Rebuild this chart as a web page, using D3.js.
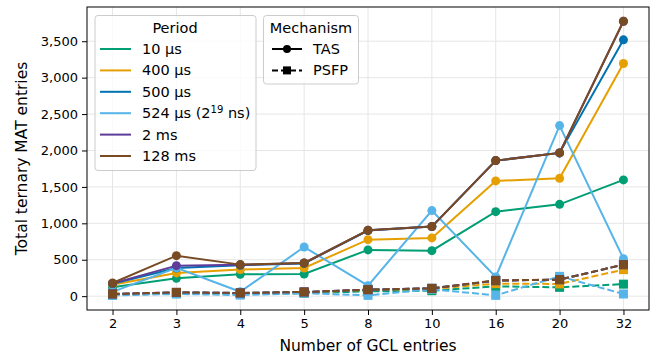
<!DOCTYPE html>
<html>
<head>
<meta charset="utf-8">
<script src="https://cdn.jsdelivr.net/npm/d3@7"></script>
<style>
  body { margin: 0; background: #fff; }
  svg { font-family: "DejaVu Sans", sans-serif; }
</style>
</head>
<body>
<svg id="chart" width="666" height="356"></svg>
<script>
// categories on the x axis (number of GCL entries)
var gclEntries = ["2", "3", "4", "5", "8", "10", "16", "20", "32"];

var periods = ["10 µs", "400 µs", "500 µs", "524 µs", "2 ms", "128 ms"];
var periodColors = ["#009E73", "#E69F00", "#0072B2", "#56B4E9", "#5E3C99", "#784B23"];

// TAS (solid, circles)
var tas10us  = [121, 245, 300, 305, 635, 625, 1160, 1261, 1596];
var tas400us = [158, 319, 365, 387, 776, 800, 1582, 1618, 3194];
var tas500us = [170, 387, 425, 450, 900, 955, 1861, 1967, 3519];
var tas524us = [58, 390, 60, 675, 144, 1175, 264, 2342, 515];
var tas2ms   = [175, 419, 430, 455, 904, 955, 1861, 1967, 3775];
var tas128ms = [181, 556, 433, 456, 904, 955, 1861, 1967, 3775];

// PSFP (dashed, squares)
var psfp10us  = [20, 35, 30, 40, 66, 75, 135, 121, 165];
var psfp400us = [25, 45, 40, 50, 85, 100, 172, 168, 364];
var psfp500us = [28, 50, 43, 56, 89, 107, 213, 227, 433];
var psfp524us = [10, 30, 15, 40, 11, 95, 11, 272, 30];
var psfp2ms   = [30, 52, 44, 58, 89, 107, 213, 227, 433];
var psfp128ms = [30, 52, 44, 58, 89, 107, 217, 227, 433];

var yTicks = [0, 500, 1000, 1500, 2000, 2500, 3000, 3500];

var tasSeries = [tas10us, tas400us, tas500us, tas524us, tas2ms, tas128ms];
var psfpSeries = [psfp10us, psfp400us, psfp500us, psfp524us, psfp2ms, psfp128ms];

var plotLeft = 87, plotRight = 649, plotTop = 7, plotBottom = 310;

var svg = d3.select('#chart');

var x = d3.scalePoint()
    .domain(gclEntries)
    .range([plotLeft, plotRight])
    .padding(0.4);

var y = d3.scaleLinear()
    .domain([-190, 3970])
    .range([plotBottom, plotTop]);

// grid
var grid = svg.append('g');
grid.selectAll(null)
    .data(gclEntries)
    .enter()
    .append('line')
    .attr('x1', function (d) { return x(d); })
    .attr('x2', function (d) { return x(d); })
    .attr('y1', plotTop).attr('y2', plotBottom)
    .attr('stroke', '#e6e6e6').attr('stroke-width', 1);
grid.selectAll(null)
    .data(yTicks)
    .enter()
    .append('line')
    .attr('x1', plotLeft).attr('x2', plotRight)
    .attr('y1', function (d) { return y(d); })
    .attr('y2', function (d) { return y(d); })
    .attr('stroke', '#e6e6e6').attr('stroke-width', 1);

// axes
var xAxis = svg.append('g')
    .attr('transform', 'translate(0,' + plotBottom + ')')
    .call(d3.axisBottom(x).tickSize(5).tickPadding(4));
var yAxis = svg.append('g')
    .attr('transform', 'translate(' + plotLeft + ',0)')
    .call(d3.axisLeft(y).tickValues(yTicks).tickFormat(d3.format(',')).tickSize(5).tickPadding(4));

[xAxis, yAxis].forEach(function (a) {
    a.select('.domain').remove();
    a.selectAll('text').attr('font-size', 13).attr('fill', '#000')
        .attr('font-family', '"DejaVu Sans", sans-serif');
    a.selectAll('line').attr('stroke', '#000');
});

svg.append('rect')
    .attr('x', plotLeft).attr('y', plotTop)
    .attr('width', plotRight - plotLeft).attr('height', plotBottom - plotTop)
    .attr('fill', 'none').attr('stroke', '#000').attr('stroke-width', 1);

var line = d3.line()
    .x(function (d, i) { return x(gclEntries[i]); })
    .y(function (d) { return y(d); });

var plot = svg.append('g');

tasSeries.forEach(function (s, k) {
    plot.append('path')
        .attr('d', line(s))
        .attr('fill', 'none')
        .attr('stroke', periodColors[k])
        .attr('stroke-width', 2);
    plot.selectAll(null)
        .data(s)
        .enter()
        .append('circle')
        .attr('cx', function (d, i) { return x(gclEntries[i]); })
        .attr('cy', function (d) { return y(d); })
        .attr('r', 4.5)
        .attr('fill', periodColors[k]);
});

psfpSeries.forEach(function (s, k) {
    plot.append('path')
        .attr('d', line(s))
        .attr('fill', 'none')
        .attr('stroke', periodColors[k])
        .attr('stroke-width', 2)
        .attr('stroke-dasharray', '7,3');
    plot.selectAll(null)
        .data(s)
        .enter()
        .append('rect')
        .attr('x', function (d, i) { return x(gclEntries[i]) - 4.5; })
        .attr('y', function (d) { return y(d) - 4.5; })
        .attr('width', 9).attr('height', 9)
        .attr('fill', periodColors[k]);
});

// axis labels
svg.append('text')
    .attr('x', (plotLeft + plotRight) / 2).attr('y', 351)
    .attr('text-anchor', 'middle')
    .attr('font-size', 15.5)
    .text('Number of GCL entries');

svg.append('text')
    .attr('transform', 'translate(27,' + ((plotTop + plotBottom) / 2) + ') rotate(-90)')
    .attr('text-anchor', 'middle')
    .attr('font-size', 15.5)
    .text('Total ternary MAT entries');

// legend: Period
var leg1 = svg.append('g');
leg1.append('rect')
    .attr('x', 95).attr('y', 15.5).attr('width', 161).attr('height', 155)
    .attr('rx', 3)
    .attr('fill', 'rgba(255,255,255,0.8)').attr('stroke', '#cccccc');
leg1.append('text')
    .attr('x', 175).attr('y', 33)
    .attr('text-anchor', 'middle').attr('font-size', 14.5)
    .text('Period');
periods.forEach(function (p, k) {
    var yy = 49 + k * 21.4;
    leg1.append('line')
        .attr('x1', 100).attr('x2', 131)
        .attr('y1', yy).attr('y2', yy)
        .attr('stroke', periodColors[k]).attr('stroke-width', 2);
    var t = leg1.append('text')
        .attr('x', 142).attr('y', yy + 5)
        .attr('font-size', 14.5);
    if (p === '524 µs') {
        t.append('tspan').text('524 µs (2');
        t.append('tspan').attr('font-size', 10).attr('dy', -5).text('19');
        t.append('tspan').attr('dy', 5).text(' ns)');
    } else {
        t.text(p);
    }
});

// legend: Mechanism
var mechanisms = ['TAS', 'PSFP'];
var leg2 = svg.append('g');
leg2.append('rect')
    .attr('x', 263.5).attr('y', 15.5).attr('width', 95).attr('height', 68.5)
    .attr('rx', 3)
    .attr('fill', 'rgba(255,255,255,0.8)').attr('stroke', '#cccccc');
leg2.append('text')
    .attr('x', 311).attr('y', 33)
    .attr('text-anchor', 'middle').attr('font-size', 14.5)
    .text('Mechanism');
mechanisms.forEach(function (m, k) {
    var yy = 49 + k * 21.4;
    leg2.append('line')
        .attr('x1', 272).attr('x2', 302)
        .attr('y1', yy).attr('y2', yy)
        .attr('stroke', '#000').attr('stroke-width', 2)
        .attr('stroke-dasharray', k === 1 ? '6,3' : null);
    if (k === 0) {
        leg2.append('circle').attr('cx', 287).attr('cy', yy).attr('r', 4).attr('fill', '#000');
    } else {
        leg2.append('rect').attr('x', 283).attr('y', yy - 4).attr('width', 8).attr('height', 8).attr('fill', '#000');
    }
    leg2.append('text')
        .attr('x', 313).attr('y', yy + 5)
        .attr('font-size', 14.5)
        .text(m);
});
</script>
</body>
</html>
